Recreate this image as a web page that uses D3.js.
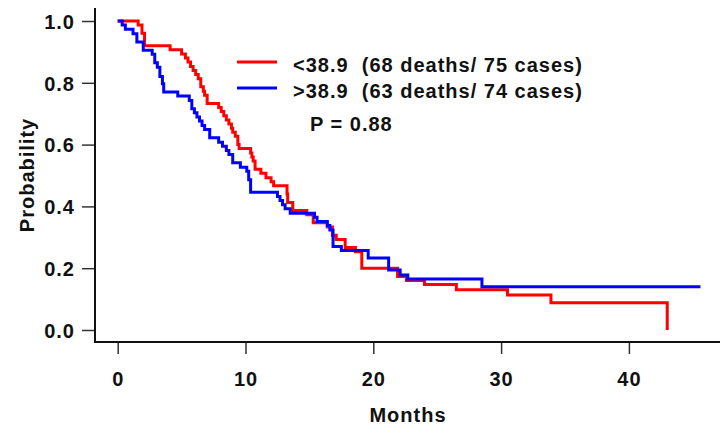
<!DOCTYPE html>
<html>
<head>
<meta charset="utf-8">
<script src="https://cdn.jsdelivr.net/npm/d3@7"></script>
<style>
  body { margin: 0; background: #fff; }
  svg text { font-family: "Liberation Sans", Arial, sans-serif; font-weight: bold; fill: #111; letter-spacing: 1px; }
</style>
</head>
<body>
<div id="chart-container"></div>
<script>
// Kaplan-Meier steps (month, survival after step)
const redTimes = [0, 1.6, 1.9, 2.1, 4.1, 5.0, 5.3, 5.5, 5.7, 5.9, 6.1, 6.3, 6.5, 6.7, 6.8, 7.0,
  7.9, 8.1, 8.3, 8.5, 8.7, 8.9, 9.0, 9.2, 9.4, 9.5, 10.4, 10.5, 10.6, 10.75, 11.2, 11.6, 12.0, 12.2,
  13.25, 13.3, 13.7, 14.8, 15.3, 16.4, 16.8, 17.1, 17.8, 18.6, 19.1, 21.9, 22.6, 24.0, 26.5, 30.5, 33.9, 43.0];
const redSurv = [1.0, 0.987, 0.96, 0.92, 0.907, 0.893, 0.88, 0.867, 0.853, 0.84, 0.827, 0.813, 0.787, 0.773, 0.76, 0.733,
  0.72, 0.707, 0.693, 0.68, 0.667, 0.653, 0.64, 0.627, 0.6, 0.587, 0.573, 0.56, 0.547, 0.52, 0.507, 0.493, 0.48, 0.467,
  0.44, 0.413, 0.387, 0.373, 0.347, 0.333, 0.307, 0.293, 0.267, 0.253, 0.2, 0.173, 0.16, 0.147, 0.13, 0.113, 0.088, 0.0];

const blueTimes = [0, 0.35, 0.6, 1.2, 1.5, 2.0, 2.7, 2.9, 3.1, 3.3, 3.5, 3.6, 4.7, 5.6, 5.8, 6.0, 6.2, 6.4, 6.6, 6.8, 7.2,
  7.9, 8.2, 8.5, 8.7, 9.0, 9.6, 10.1, 10.25, 10.4, 12.5, 12.7, 12.9, 13.1, 13.5, 15.4, 15.6, 16.4, 16.6, 16.85, 17.5,
  19.6, 21.2, 22.1, 22.7, 28.5, 45.6];
const blueSurv = [1.0, 0.987, 0.973, 0.959, 0.932, 0.905, 0.892, 0.865, 0.85, 0.82, 0.797, 0.77, 0.757, 0.743, 0.716, 0.703, 0.689, 0.676, 0.662, 0.649, 0.622,
  0.608, 0.595, 0.581, 0.568, 0.541, 0.527, 0.514, 0.486, 0.446, 0.432, 0.419, 0.405, 0.392, 0.378, 0.365, 0.351, 0.338, 0.324, 0.27, 0.257,
  0.233, 0.194, 0.178, 0.165, 0.14, 0.14];

const xTicks = [0, 10, 20, 30, 40];
const yTicks = [0.0, 0.2, 0.4, 0.6, 0.8, 1.0];
const legendLabels = ["<38.9  (68 deaths/ 75 cases)", ">38.9  (63 deaths/ 74 cases)"];
const pLabel = "P = 0.88";

const width = 720, height = 427;

const svg = d3.select("#chart-container")
  .append("svg")
  .attr("width", width)
  .attr("height", height);

const x = d3.scaleLinear().domain([0, 40]).range([117.7, 628.9]);
const y = d3.scaleLinear().domain([0, 1]).range([330, 21]);

// axes
const yAxis = svg.append("g")
  .attr("transform", "translate(95,0)")
  .call(d3.axisLeft(y).tickValues(yTicks).tickSize(13).tickPadding(7).tickFormat(d3.format(".1f")));
yAxis.select(".domain").remove();
yAxis.selectAll(".tick line").attr("stroke", "#333").attr("stroke-width", 1.5);
yAxis.selectAll(".tick text").style("font-size", "20px").attr("dy", "0.36em");

const xAxis = svg.append("g")
  .attr("transform", "translate(0,342)")
  .call(d3.axisBottom(x).tickValues(xTicks).tickSize(12).tickPadding(18));
xAxis.select(".domain").remove();
xAxis.selectAll(".tick line").attr("stroke", "#333").attr("stroke-width", 1.5);
xAxis.selectAll(".tick text").style("font-size", "20px");

// frame lines (left and bottom)
svg.append("line")
  .attr("x1", 95).attr("x2", 95).attr("y1", 8).attr("y2", 343)
  .attr("stroke", "#111").attr("stroke-width", 2);
svg.append("line")
  .attr("x1", 94).attr("x2", 720).attr("y1", 342).attr("y2", 342)
  .attr("stroke", "#111").attr("stroke-width", 2);

// axis titles
svg.append("text")
  .attr("transform", "translate(34,175) rotate(-90)")
  .attr("text-anchor", "middle")
  .style("font-size", "20px")
  .text("Probability");

svg.append("text")
  .attr("x", 408)
  .attr("y", 422)
  .attr("text-anchor", "middle")
  .style("font-size", "20px")
  .text("Months");

// survival curves
const step = d3.line()
  .x(d => x(d[0]))
  .y(d => y(d[1]))
  .curve(d3.curveStepAfter);

const redData = redTimes.map((t, i) => [t, redSurv[i]]);
const blueData = blueTimes.map((t, i) => [t, blueSurv[i]]);

svg.append("path")
  .datum(redData)
  .attr("d", step)
  .attr("fill", "none")
  .attr("stroke", "#ff0000")
  .attr("stroke-width", 3);

svg.append("path")
  .datum(blueData)
  .attr("d", step)
  .attr("fill", "none")
  .attr("stroke", "#0000ff")
  .attr("stroke-width", 3);

// legend
const legendColors = ["#ff0000", "#0000ff"];
const legendY = [62, 88];
legendLabels.forEach((lab, i) => {
  svg.append("line")
    .attr("x1", 237).attr("x2", 277)
    .attr("y1", legendY[i]).attr("y2", legendY[i])
    .attr("stroke", legendColors[i])
    .attr("stroke-width", 3);
  svg.append("text")
    .attr("x", 293)
    .attr("y", legendY[i] + 10)
    .style("font-size", "20px")
    .style("white-space", "pre")
    .text(lab);
});

svg.append("text")
  .attr("x", 310)
  .attr("y", 131)
  .style("font-size", "20px")
  .text(pLabel);
</script>
</body>
</html>
